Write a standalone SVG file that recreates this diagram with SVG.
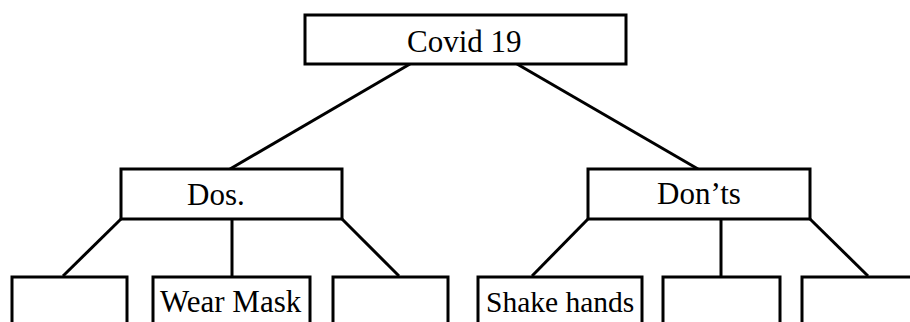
<svg xmlns="http://www.w3.org/2000/svg" width="910" height="322" viewBox="0 0 910 322">
<style>
.box{fill:#fff;stroke:#000;stroke-width:3}
.ln{stroke:#000;stroke-width:3;fill:none}
text{font-family:"Liberation Serif","Times New Roman",serif;font-size:31px;fill:#000}
.s{font-size:29.5px}
</style>
<rect width="910" height="322" fill="#fff"/>
<g id="connectors">
<line class="ln" x1="410" y1="64" x2="230" y2="169"/>
<line class="ln" x1="517" y1="64" x2="698" y2="169"/>
<line class="ln" x1="121" y1="219" x2="63" y2="276"/>
<line class="ln" x1="232" y1="219" x2="232" y2="276"/>
<line class="ln" x1="342" y1="219" x2="399" y2="276"/>
<line class="ln" x1="588" y1="219" x2="532" y2="276"/>
<line class="ln" x1="721" y1="219" x2="721" y2="276"/>
<line class="ln" x1="810" y1="219" x2="868" y2="276"/>
</g>
<g id="covid"><rect class="box" x="305" y="15" width="321" height="49"/><text x="407" y="52">Covid 19</text></g>
<g id="dos"><rect class="box" x="121" y="169" width="221" height="50"/><text x="187" y="205">Dos.</text></g>
<g id="donts"><rect class="box" x="588" y="169" width="222" height="50"/><text x="657" y="204">Don’ts</text></g>
<g id="dos1"><rect class="box" x="12" y="277" width="115" height="60"/></g>
<g id="dos2"><rect class="box" x="153" y="277" width="157" height="60"/><text x="160" y="312">Wear Mask</text></g>
<g id="dos3"><rect class="box" x="333" y="277" width="115" height="60"/></g>
<g id="donts1"><rect class="box" x="478" y="277" width="164" height="60"/><text class="s" x="486" y="312">Shake hands</text></g>
<g id="donts2"><rect class="box" x="663" y="277" width="117" height="60"/></g>
<g id="donts3"><rect class="box" x="802" y="277" width="130" height="60"/></g>
</svg>
